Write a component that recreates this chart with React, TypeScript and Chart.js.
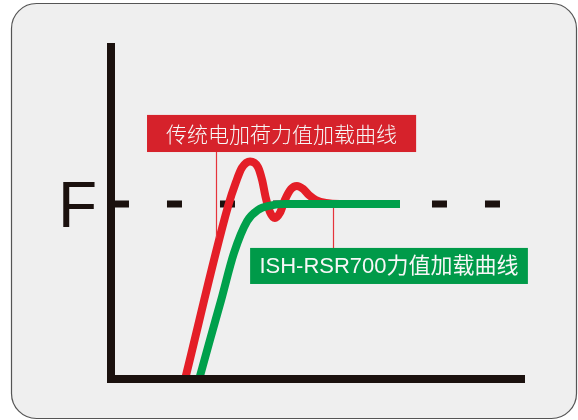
import React, { useEffect, useRef } from "react";
import { Chart, registerables } from "chart.js";

Chart.register(...registerables);

// ---- data (time in arbitrary units, force in % of target F) ----
const X_MAX = 100;
const Y_MAX = 192;
const F_LEVEL = 100;

const RED_X = [17.9, 28.3, 30.2, 31.6, 33.6, 35.5, 36.5, 37.4, 38.4, 39.6, 40.8, 42.0, 43.5, 44.9, 46.4, 47.8, 49.5, 51.9, 55.3, 69.8];
const RED_Y = [0, 98.9, 112.6, 120.6, 124.3, 121.1, 113.7, 103.4, 95.4, 92, 94.9, 102.3, 108.6, 110.3, 108.6, 105.1, 102.3, 100.6, 100, 100];

const GREEN_X = [21.3, 23.9, 26.6, 29.7, 32.9, 35.5, 38.4, 42.0, 69.8];
const GREEN_Y = [0, 22.3, 45.1, 72, 90.3, 96.6, 99.1, 100, 100];

const DASH_X = [0.72, 94];

const AXIS_LABEL = "F";
const RED_LABEL = "传统电加荷力值加载曲线";
const GREEN_LABEL = "ISH-RSR700力值加载曲线";

const toPts = (xs: number[], ys: number[]) => xs.map((x, i) => ({ x, y: ys[i] }));

const AXIS_COLOR = "#1b110e";
const RED = "#e41e27";
const GREEN = "#00a04b";
const RED_BOX = "#d6222b";
const GREEN_BOX = "#009a49";

export default function App() {
  const ref = useRef<HTMLCanvasElement | null>(null);

  useEffect(() => {
    document.body.style.margin = "0";
    document.body.style.background = "#ffffff";
    const canvas = ref.current;
    if (!canvas) return;

    const framePlugin = {
      id: "frame",
      beforeDraw(chart: any) {
        const ctx = chart.ctx as CanvasRenderingContext2D;
        ctx.save();
        ctx.fillStyle = "#ffffff";
        ctx.fillRect(0, 0, chart.width, chart.height);
        ctx.beginPath();
        (ctx as any).roundRect(11.5, 3.5, 565, 415, 25);
        ctx.fillStyle = "#efefef";
        ctx.fill();
        ctx.strokeStyle = "#555555";
        ctx.lineWidth = 1.2;
        ctx.stroke();
        ctx.restore();
      },
      afterDatasetsDraw(chart: any) {
        const ctx = chart.ctx as CanvasRenderingContext2D;
        const xs = chart.scales.x;
        const ys = chart.scales.y;
        const x0 = xs.getPixelForValue(0);
        const y0 = ys.getPixelForValue(0);
        const yTop = ys.getPixelForValue(Y_MAX);
        const xEnd = xs.getPixelForValue(X_MAX);
        const yF = ys.getPixelForValue(F_LEVEL);
        ctx.save();
        ctx.strokeStyle = AXIS_COLOR;
        ctx.lineWidth = 8;
        ctx.lineCap = "butt";
        ctx.beginPath();
        ctx.moveTo(x0, yTop);
        ctx.lineTo(x0, y0 + 4);
        ctx.moveTo(x0 - 4, y0);
        ctx.lineTo(xEnd, y0);
        ctx.stroke();

        // F label
        ctx.fillStyle = AXIS_COLOR;
        ctx.font = '64px "Liberation Sans", Arial, sans-serif';
        ctx.textAlign = "left";
        ctx.textBaseline = "alphabetic";
        ctx.fillText(AXIS_LABEL, x0 - 53, yF + 23);

        // leader lines
        ctx.strokeStyle = "#e5343b";
        ctx.lineWidth = 1.2;
        ctx.beginPath();
        const rlx = Math.round(xs.getPixelForValue(25.4)) + 0.5;
        ctx.moveTo(rlx, ys.getPixelForValue(129.7));
        ctx.lineTo(rlx, ys.getPixelForValue(80.6));
        const glx = Math.round(xs.getPixelForValue(53.6)) + 0.5;
        ctx.moveTo(glx, ys.getPixelForValue(97.7));
        ctx.lineTo(glx, ys.getPixelForValue(74.9));
        ctx.stroke();

        // label boxes
        const box = (l: number, r: number, t: number, b: number, color: string, text: string, font: string) => {
          const L = xs.getPixelForValue(l);
          const R = xs.getPixelForValue(r);
          const T = ys.getPixelForValue(t);
          const B = ys.getPixelForValue(b);
          ctx.fillStyle = color;
          ctx.fillRect(L, T, R - L, B - T);
          ctx.fillStyle = "#f7f7f7";
          ctx.font = font;
          ctx.textAlign = "center";
          ctx.textBaseline = "middle";
          ctx.fillText(text, (L + R) / 2, (T + B) / 2 + 0.5);
        };
        box(8.7, 73.7, 150.9, 129.7, RED_BOX, RED_LABEL, '300 21px "Noto Sans CJK SC", sans-serif');
        box(33.6, 100.7, 74.9, 54.3, GREEN_BOX, GREEN_LABEL, '22px "Liberation Sans", "Noto Sans CJK SC", sans-serif');
        ctx.restore();
      },
    };

    const chart = new Chart(canvas, {
      type: "line",
      data: {
        datasets: [
          {
            label: "ISH-RSR700",
            data: toPts(GREEN_X, GREEN_Y),
            borderColor: GREEN,
            borderWidth: 8,
            pointRadius: 0,
            cubicInterpolationMode: "monotone",
            borderCapStyle: "butt",
            borderJoinStyle: "round",
            fill: false,
            order: 0,
          },
          {
            label: "traditional",
            data: toPts(RED_X, RED_Y),
            borderColor: RED,
            borderWidth: 8,
            pointRadius: 0,
            cubicInterpolationMode: "monotone",
            borderCapStyle: "butt",
            borderJoinStyle: "round",
            fill: false,
            order: 1,
          },
          {
            label: "F",
            data: toPts(DASH_X, [F_LEVEL, F_LEVEL]),
            borderColor: AXIS_COLOR,
            borderWidth: 7,
            borderDash: [15, 38],
            pointRadius: 0,
            fill: false,
            order: 2,
          },
        ],
      },
      options: {
        animation: false,
        responsive: false,
        devicePixelRatio: 1,
        layout: { padding: { left: 111, right: 53, top: 43, bottom: 41 } },
        scales: {
          x: { type: "linear", min: 0, max: X_MAX, display: false },
          y: { type: "linear", min: 0, max: Y_MAX, display: false },
        },
        plugins: {
          legend: { display: false },
          tooltip: { enabled: false },
        },
        events: [],
      },
      plugins: [framePlugin],
    });
    return () => chart.destroy();
  }, []);

  return <canvas ref={ref} width={578} height={420} style={{ display: "block", width: 578, height: 420 }} />;
}
